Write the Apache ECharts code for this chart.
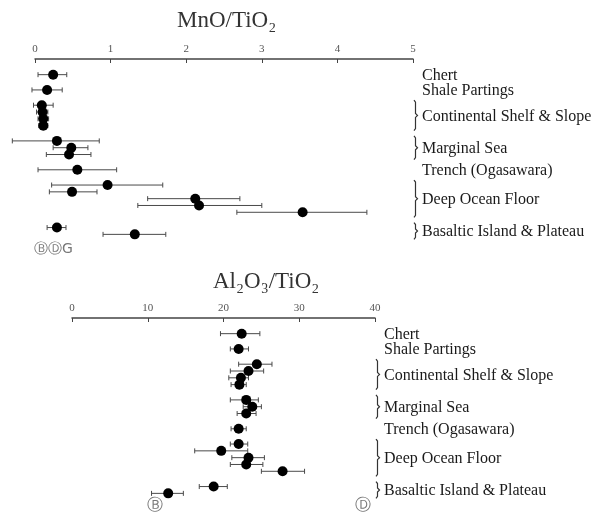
<!DOCTYPE html>
<html>
<head>
<meta charset="utf-8">
<script src="https://cdn.jsdelivr.net/npm/echarts@6/dist/echarts.min.js"></script>
<style>
  html, body { margin: 0; padding: 0; background: #fff; }
  #chart { width: 591px; height: 520px; }
</style>
</head>
<body>
<div id="chart"></div>
<script>
// Sample groups, listed top to bottom, and how many samples each holds
const groups = ['Chert', 'Shale Partings', 'Continental Shelf & Slope', 'Marginal Sea',
                'Trench (Ogasawara)', 'Deep Ocean Floor', 'Basaltic Island & Plateau'];
const groupSizes = [1, 1, 4, 3, 1, 5, 2];

// MnO/TiO2: mean and error-bar ends per sample
const mnoMean = [0.24, 0.16, 0.09, 0.10, 0.11, 0.11, 0.29, 0.48, 0.45, 0.56, 0.96, 0.49, 2.12, 2.17, 3.54, 0.29, 1.32];
const mnoLow  = [0.04, -0.04, -0.02, 0.02, 0.04, 0.05, -0.30, 0.24, 0.15, 0.04, 0.22, 0.19, 1.49, 1.36, 2.67, 0.16, 0.90];
const mnoHigh = [0.42, 0.36, 0.24, 0.17, 0.18, 0.17, 0.85, 0.70, 0.74, 1.08, 1.69, 0.82, 2.71, 3.00, 4.39, 0.41, 1.73];

// Al2O3/TiO2: mean and error-bar ends per sample
const alMean = [22.4, 22.0, 24.4, 23.3, 22.3, 22.1, 23.0, 23.8, 23.0, 22.0, 22.0, 19.7, 23.3, 23.0, 27.8, 18.7, 12.7];
const alLow  = [19.6, 20.9, 22.0, 20.9, 20.7, 21.0, 20.9, 22.6, 21.8, 21.0, 20.9, 16.2, 21.1, 20.9, 25.0, 16.8, 10.5];
const alHigh = [24.8, 23.3, 26.4, 25.3, 23.3, 23.0, 24.6, 25.0, 24.3, 23.0, 23.2, 23.2, 25.4, 25.2, 30.7, 20.5, 14.7];

// Axis ranges and tick steps
const mnoAxis = { min: 0, max: 5, step: 1 };
const alAxis  = { min: 0, max: 40, step: 10 };

// Row layout: samples sit one unit apart, with extra space between groups
const GROUP_GAP = 1.24;
const rowPos = [];
const groupSpans = [];
(function () {
  let i = 0;
  groupSizes.forEach((n, g) => {
    const start = i + g * GROUP_GAP;
    for (let k = 0; k < n; k++) { rowPos.push(i + g * GROUP_GAP); i++; }
    groupSpans.push([start, start + n - 1, g, n]);
  });
})();

const SERIF = '"Liberation Serif", "DejaVu Serif", serif';
const INK = '#1a1a1a';

function errData(low, high) {
  return low.map((l, i) => [l, high[i], rowPos[i]]);
}
function dotData(mean) {
  return mean.map((m, i) => [m, rowPos[i]]);
}

function renderErr(params, api) {
  const y = api.value(2);
  const p0 = api.coord([api.value(0), y]);
  const p1 = api.coord([api.value(1), y]);
  const c = 2.5;
  const st = { stroke: '#4a4a4a', lineWidth: 1 };
  return {
    type: 'group',
    children: [
      { type: 'line', shape: { x1: p0[0], y1: p0[1], x2: p1[0], y2: p1[1] }, style: st },
      { type: 'line', shape: { x1: p0[0], y1: p0[1] - c, x2: p0[0], y2: p0[1] + c }, style: st },
      { type: 'line', shape: { x1: p1[0], y1: p1[1] - c, x2: p1[0], y2: p1[1] + c }, style: st }
    ]
  };
}

function makeBracketRenderer(axisMax) {
  return function (params, api) {
    const top = api.coord([axisMax, api.value(0)]);
    const bot = api.coord([axisMax, api.value(1)]);
    const name = groups[api.value(2)];
    const n = api.value(3);
    const x = top[0] + 1;
    const mid = (top[1] + bot[1]) / 2;
    const children = [{
      type: 'text',
      style: {
        text: name, x: x + 8, y: mid + 1,
        fill: INK, font: '16px ' + SERIF,
        verticalAlign: 'middle', align: 'left'
      }
    }];
    if (n > 1) {
      const y0 = top[1] - 5, y1 = bot[1] + 5;
      children.push({
        type: 'polyline',
        shape: { points: [[x, y0], [x + 1.5, y0 + 2], [x + 1.5, mid - 2], [x + 3.5, mid],
                          [x + 1.5, mid + 2], [x + 1.5, y1 - 2], [x, y1]] },
        style: { stroke: '#333', lineWidth: 1.2, fill: null }
      });
    }
    return { type: 'group', children: children };
  };
}

function xAxisFor(gridIndex, ax) {
  return {
    gridIndex: gridIndex, type: 'value', position: 'top',
    min: ax.min, max: ax.max, interval: ax.step,
    axisLine: { onZero: false, lineStyle: { color: '#444', width: 1.5 } },
    axisTick: { inside: true, length: 4, lineStyle: { color: '#444', width: 1 } },
    axisLabel: { fontFamily: SERIF, fontSize: 11, color: '#555', margin: 4 },
    splitLine: { show: false }
  };
}
function yAxisFor(gridIndex) {
  return {
    gridIndex: gridIndex, type: 'value', inverse: true, show: false,
    min: -2.3, max: 25, splitLine: { show: false }
  };
}

const spanData = groupSpans.map(s => s.slice());

const chart = echarts.init(document.getElementById('chart'), null, { renderer: 'canvas' });
chart.setOption({
  animation: false,
  backgroundColor: '#fff',
  graphic: [
    { type: 'text', left: 177, top: 9,
      style: { text: 'MnO/TiO₂', font: '23px ' + SERIF, fill: '#333' } },
    { type: 'text', left: 213, top: 270,
      style: { text: 'Al₂O₃/TiO₂', font: '23px ' + SERIF, fill: '#333' } },
    { type: 'text', left: 34, top: 242,
      style: { text: 'ⒷⒹG', font: '14px "DejaVu Sans"', fill: '#777' } },
    { type: 'text', left: 147, top: 498,
      style: { text: 'Ⓑ', font: '16px "DejaVu Sans"', fill: '#777' } },
    { type: 'text', left: 355, top: 498,
      style: { text: 'Ⓓ', font: '16px "DejaVu Sans"', fill: '#777' } }
  ],
  grid: [
    { left: 35, top: 59, width: 378, height: 186 },
    { left: 72, top: 318, width: 303, height: 186 }
  ],
  xAxis: [xAxisFor(0, mnoAxis), xAxisFor(1, alAxis)],
  yAxis: [yAxisFor(0), yAxisFor(1)],
  series: [
    { type: 'custom', xAxisIndex: 0, yAxisIndex: 0, renderItem: renderErr,
      data: errData(mnoLow, mnoHigh), encode: { x: [0, 1], y: 2 }, clip: false, silent: true, z: 2 },
    { type: 'scatter', xAxisIndex: 0, yAxisIndex: 0, data: dotData(mnoMean),
      symbol: 'circle', symbolSize: 10, itemStyle: { color: '#000', opacity: 1 }, z: 3 },
    { type: 'custom', xAxisIndex: 0, yAxisIndex: 0, renderItem: makeBracketRenderer(mnoAxis.max),
      data: spanData, encode: { y: [0, 1] }, clip: false, silent: true },

    { type: 'custom', xAxisIndex: 1, yAxisIndex: 1, renderItem: renderErr,
      data: errData(alLow, alHigh), encode: { x: [0, 1], y: 2 }, clip: false, silent: true, z: 2 },
    { type: 'scatter', xAxisIndex: 1, yAxisIndex: 1, data: dotData(alMean),
      symbol: 'circle', symbolSize: 10, itemStyle: { color: '#000', opacity: 1 }, z: 3 },
    { type: 'custom', xAxisIndex: 1, yAxisIndex: 1, renderItem: makeBracketRenderer(alAxis.max),
      data: spanData, encode: { y: [0, 1] }, clip: false, silent: true }
  ]
});
</script>
</body>
</html>
